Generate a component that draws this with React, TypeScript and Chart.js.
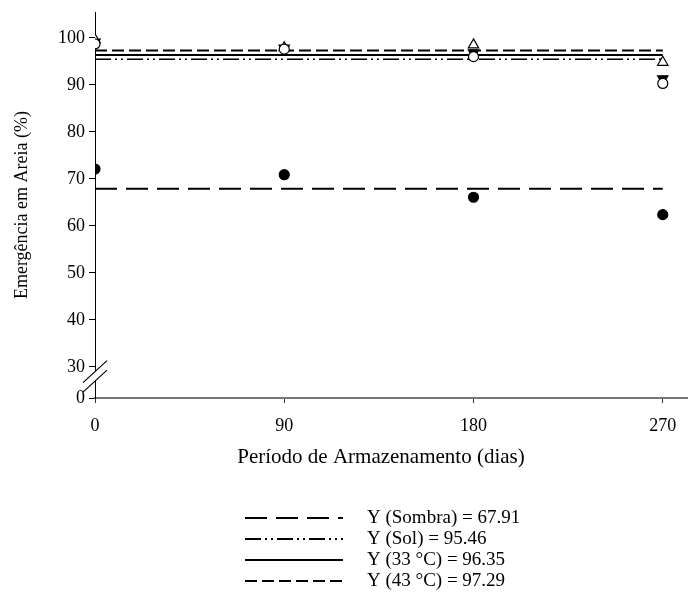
import React, { useEffect, useRef } from "react";
import { Chart, registerables } from "chart.js";

Chart.register(...registerables);

// Storage period (days)
const periods = [0, 90, 180, 270];
// Emergence in sand (%) per treatment
const sombraValues = [72.1, 70.9, 66.1, 62.4];
const solValues = [98.7, 97.6, 96.0, 90.3];
const t33Values = [99.1, 97.8, 96.8, 91.3];
const t43Values = [99.6, 97.9, 98.5, 94.8];
// Fitted means (horizontal regression lines)
const sombraMean = 67.91;
const solMean = 95.46;
const t33Mean = 96.35;
const t43Mean = 97.29;
// Axis ticks
const xTicks = [0, 90, 180, 270];
const yTicks = [30, 40, 50, 60, 70, 80, 90, 100];
const legendLabels = [
  "Y (Sombra) = 67.91",
  "Y (Sol) = 95.46",
  "Y (33 °C) = 96.35",
  "Y (43 °C) = 97.29",
];

const FONT = "'Liberation Serif', 'Times New Roman', serif";
const Y_MIN = 23.4;
const Y_MAX = 105.5;

const dashSombra = [22, 9];
const dashSol = [16, 4, 2, 4, 2, 4];
const dash33: number[] = [];
const dash43 = [12, 5];

const toPts = (vals: number[]) => periods.map((p, i) => ({ x: p, y: vals[i] }));
const flat = (v: number) => [
  { x: periods[0], y: v },
  { x: periods[periods.length - 1], y: v },
];

const breakPlugin = {
  id: "axisBreak",
  afterDraw(chart: any) {
    const ctx = chart.ctx;
    const y = chart.scales.y;
    const x = chart.chartArea.left;
    const c1 = y.getPixelForValue(29.0);
    const c2 = y.getPixelForValue(27.0);
    ctx.save();
    ctx.fillStyle = "#fff";
    ctx.beginPath();
    ctx.moveTo(x - 12, c1 + 11);
    ctx.lineTo(x + 12, c1 - 11);
    ctx.lineTo(x + 12, c2 - 11);
    ctx.lineTo(x - 12, c2 + 11);
    ctx.closePath();
    ctx.fill();
    ctx.strokeStyle = "#000";
    ctx.lineWidth = 1.2;
    [c1, c2].forEach((c) => {
      ctx.beginPath();
      ctx.moveTo(x - 12, c + 11);
      ctx.lineTo(x + 12, c - 11);
      ctx.stroke();
    });
    ctx.restore();
  },
};

const legendPlugin = {
  id: "customLegend",
  afterDraw(chart: any) {
    const ctx = chart.ctx;
    const dashes = [dashSombra, dashSol, dash33, dash43];
    const rowY = [518, 539, 560, 581];
    ctx.save();
    ctx.font = `19px ${FONT}`;
    ctx.fillStyle = "#000";
    ctx.textBaseline = "middle";
    legendLabels.forEach((label, i) => {
      ctx.strokeStyle = "#000";
      ctx.lineWidth = 2;
      ctx.setLineDash(dashes[i]);
      ctx.beginPath();
      ctx.moveTo(245, rowY[i]);
      ctx.lineTo(343, rowY[i]);
      ctx.stroke();
      ctx.setLineDash([]);
      ctx.fillText(label, 367, rowY[i]);
    });
    ctx.restore();
  },
};

export default function App() {
  const ref = useRef<HTMLCanvasElement>(null);
  useEffect(() => {
    document.body.style.margin = "0";
    const canvas = ref.current!;
    const pointBase = {
      type: "scatter" as const,
      showLine: false,
      borderColor: "#000",
      borderWidth: 1.2,
      order: 0,
    };
    const lineBase = {
      type: "scatter" as const,
      showLine: true,
      pointRadius: 0,
      borderColor: "#000",
      borderWidth: 2,
      order: 1,
    };
    const chart = new Chart(canvas, {
      type: "scatter",
      data: {
        datasets: [
          { ...lineBase, label: "Sombra fit", data: flat(sombraMean), borderDash: dashSombra },
          { ...lineBase, label: "Sol fit", data: flat(solMean), borderDash: dashSol, borderWidth: 1.6 },
          { ...lineBase, label: "33 fit", data: flat(t33Mean), borderDash: dash33, borderWidth: 2 },
          { ...lineBase, label: "43 fit", data: flat(t43Mean), borderDash: dash43 },
          { ...pointBase, label: "Sol", data: toPts(solValues), pointStyle: "circle", pointRadius: 5, pointBackgroundColor: "#fff" },
          { ...pointBase, label: "43", data: toPts(t43Values), pointStyle: "triangle", pointRadius: 6, pointBackgroundColor: "#fff" },
          { ...pointBase, label: "33", data: toPts(t33Values), pointStyle: "triangle", pointRotation: 180, pointRadius: 6, pointBackgroundColor: "#000" },
          { ...pointBase, label: "Sombra", data: toPts(sombraValues), pointStyle: "circle", pointRadius: 5, pointBackgroundColor: "#000" },
        ],
      },
      options: {
        responsive: false,
        animation: false,
        layout: { autoPadding: false, padding: { top: 12, right: 0, bottom: 126, left: 0 } },
        plugins: { legend: { display: false }, tooltip: { enabled: false } },
        scales: {
          x: {
            type: "linear",
            min: 0,
            max: 282,
            afterBuildTicks: (axis: any) => {
              axis.ticks = xTicks.map((v) => ({ value: v }));
            },
            afterFit: (scale: any) => {
              scale.height = 72;
              scale.paddingRight = 0;
              scale.paddingLeft = 0;
            },
            grid: { drawOnChartArea: false, drawTicks: true, tickLength: 5, color: "#333" },
            border: { color: "#777", width: 2 },
            ticks: { color: "#000", font: { family: FONT, size: 18 }, padding: 12 },
            title: {
              display: true,
              text: "Período de Armazenamento (dias)\u00A0\u00A0\u00A0\u00A0",
              color: "#000",
              font: { family: FONT, size: 21 },
              padding: { top: 0, bottom: 0 },
            },
          },
          y: {
            type: "linear",
            min: Y_MIN,
            max: Y_MAX,
            afterBuildTicks: (axis: any) => {
              axis.ticks = [Y_MIN, ...yTicks].map((v) => ({ value: v }));
            },
            afterFit: (scale: any) => {
              scale.width = 95;
              scale.paddingTop = 0;
              scale.paddingBottom = 0;
            },
            grid: { drawOnChartArea: false, drawTicks: true, tickLength: 6, color: "#000" },
            border: { color: "#000", width: 1 },
            ticks: {
              color: "#000",
              font: { family: FONT, size: 18 },
              padding: 4,
              callback: (v: any) => (Math.abs(v - Y_MIN) < 0.01 ? "0" : String(v)),
            },
            title: {
              display: true,
              text: "Emergência em Areia (%)",
              color: "#000",
              font: { family: FONT, size: 18 },
              padding: { top: 11, bottom: 0 },
            },
          },
        },
      },
      plugins: [breakPlugin, legendPlugin],
    });
    return () => chart.destroy();
  }, []);
  return <canvas ref={ref} width={688} height={596} style={{ display: "block" }} />;
}
